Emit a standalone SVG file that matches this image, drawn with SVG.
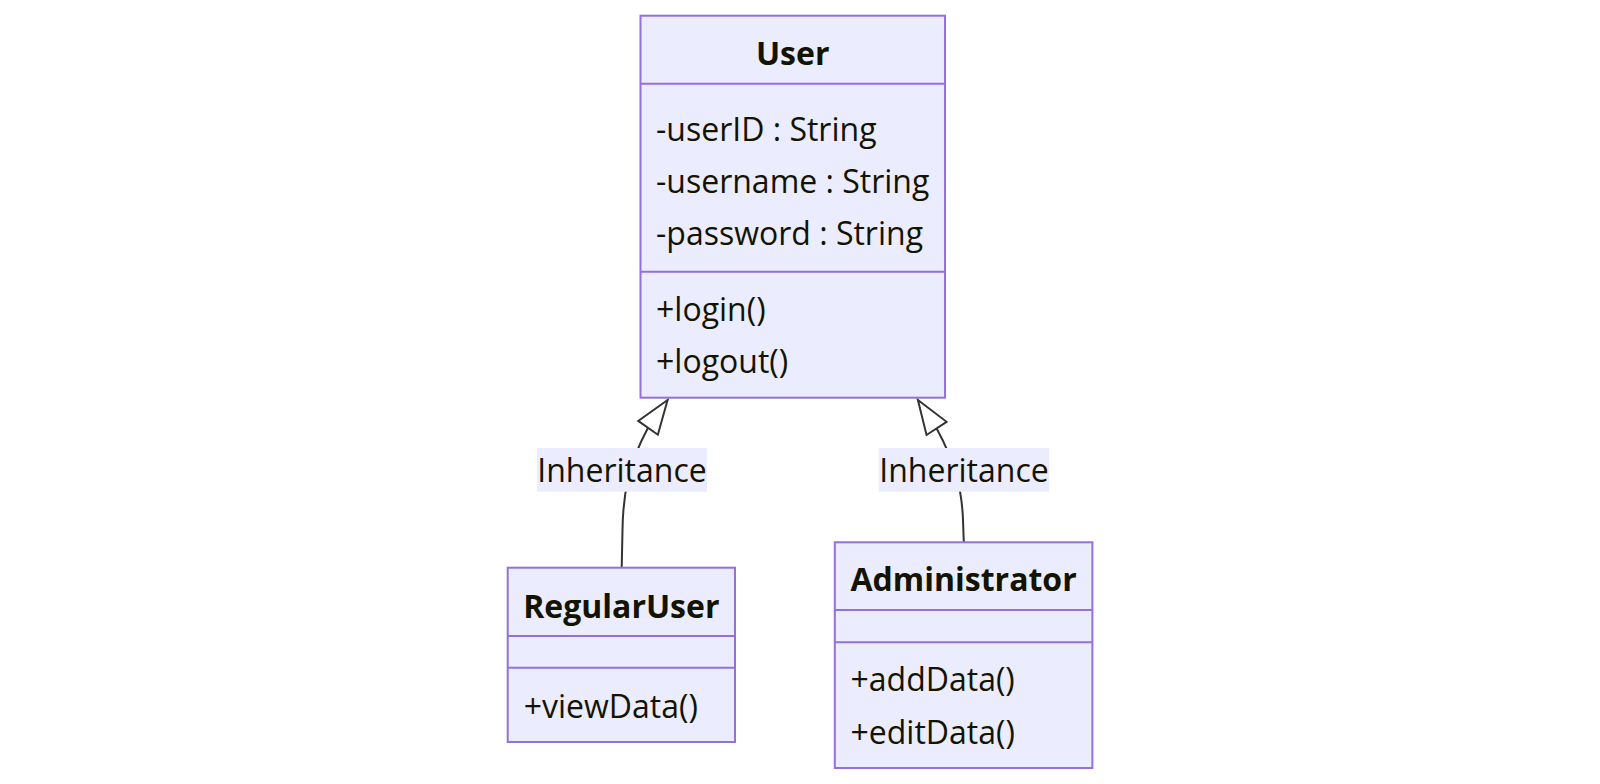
<svg xmlns="http://www.w3.org/2000/svg" width="1600" height="784" viewBox="0 0 1600 784">
<defs>
<style>
.box{fill:#ECECFF;stroke:#9370DB;stroke-width:2}
.div{stroke:#9370DB;stroke-width:2}
.t{font-family:"Open Sans","Noto Sans",sans-serif;font-size:32px;fill:#131300}
.title{font-weight:bold;text-anchor:middle}
.mid{text-anchor:middle}
.edge{fill:none;stroke:#333333;stroke-width:2}
.lbl{fill:#ECECFF}
</style>
<marker id="ext" markerUnits="userSpaceOnUse" viewBox="-38 -15 42 30" refX="0" refY="0" markerWidth="42" markerHeight="30" orient="auto" overflow="visible">
<path d="M0,0 L-34,-12 L-34,12 Z" fill="#ffffff" stroke="#333333" stroke-width="2" stroke-linejoin="miter"/>
</marker>
</defs>
<rect width="1600" height="784" fill="#ffffff"/>
<g id="connectors">
<path class="edge" d="M621.7,567.7 L622.5,530 C623,495 628,465 647.9,428 L667.6,400" marker-end="url(#ext)"/>
<path class="edge" d="M963.8,542.3 L963,520 C962,490 955,462 936.5,428.3 L917.9,400" marker-end="url(#ext)"/>
<rect class="lbl" x="537.1" y="448" width="169.9" height="43.7"/>
<text class="t mid" x="622" y="482">Inheritance</text>
<rect class="lbl" x="878.8" y="448" width="170.3" height="43.7"/>
<text class="t mid" x="964" y="482">Inheritance</text>
</g>
<g id="User">
<rect class="box" x="640.5" y="15.7" width="304.5" height="382"/>
<line class="div" x1="640.5" y1="83.7" x2="945" y2="83.7"/>
<line class="div" x1="640.5" y1="271.7" x2="945" y2="271.7"/>
<text class="t title" x="792.7" y="65">User</text>
<text class="t" x="656" y="141">-userID : String</text>
<text class="t" x="656" y="193">-username : String</text>
<text class="t" x="656" y="245">-password : String</text>
<text class="t" x="656" y="321">+login()</text>
<text class="t" x="656" y="373">+logout()</text>
</g>
<g id="RegularUser">
<rect class="box" x="507.7" y="567.7" width="227.3" height="174.3"/>
<line class="div" x1="507.7" y1="636" x2="735" y2="636"/>
<line class="div" x1="507.7" y1="667.7" x2="735" y2="667.7"/>
<text class="t title" x="621.3" y="617.5">RegularUser</text>
<text class="t" x="523.7" y="717.7">+viewData()</text>
</g>
<g id="Administrator">
<rect class="box" x="834.8" y="542.3" width="257.6" height="225.7"/>
<line class="div" x1="834.8" y1="610" x2="1092.4" y2="610"/>
<line class="div" x1="834.8" y1="642.3" x2="1092.4" y2="642.3"/>
<text class="t title" x="963.6" y="591.2">Administrator</text>
<text class="t" x="850.5" y="691">+addData()</text>
<text class="t" x="850.5" y="744">+editData()</text>
</g>
</svg>
